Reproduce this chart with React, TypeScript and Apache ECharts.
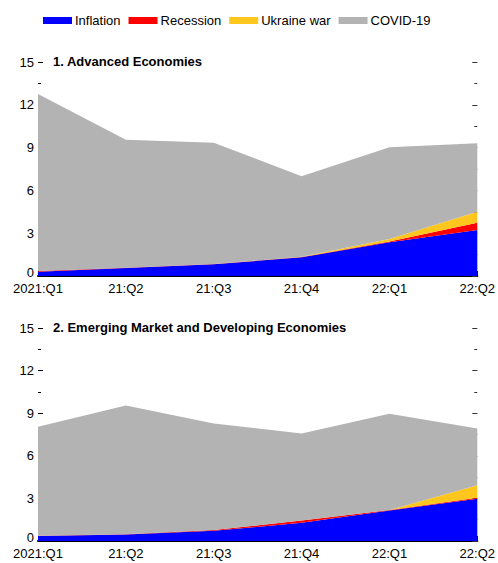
import React, { useEffect, useRef } from "react";
import * as echarts from "echarts";

const categories = ["2021:Q1", "21:Q2", "21:Q3", "21:Q4", "22:Q1", "22:Q2"];

const aeInflation = [0.3, 0.56, 0.82, 1.31, 2.36, 3.22];
const aeRecession = [0.05, 0.02, 0.02, 0.02, 0.05, 0.51];
const aeUkraine = [0, 0, 0, 0.02, 0.18, 0.77];
const aeCovid = [12.4, 8.97, 8.5, 5.65, 6.43, 4.8];

const emInflation = [0.35, 0.46, 0.72, 1.28, 2.15, 2.97];
const emRecession = [0.02, 0.02, 0.05, 0.16, 0.03, 0.07];
const emUkraine = [0, 0, 0, 0, 0, 0.89];
const emCovid = [7.67, 9.06, 7.5, 6.13, 6.78, 3.99];

const seriesNames = ["Inflation", "Recession", "Ukraine war", "COVID-19"];
const colors = ["#0000FF", "#FF0000", "#FFC61E", "#B3B3B3"];
const panelTitles = ["1. Advanced Economies", "2. Emerging Market and Developing Economies"];

const FONT = "'Liberation Sans', Arial, sans-serif";
const FS = 13;

export default function App() {
  const ref = useRef<HTMLDivElement>(null);

  useEffect(() => {
    if (!ref.current) return;
    const chart = echarts.init(ref.current, undefined, { renderer: "svg" });

    const grids = [
      { left: 38, right: 17, top: 62, height: 214 },
      { left: 38, right: 17, top: 328, height: 213 },
    ];

    const xAxes = grids.map((_, i) => ({
      type: "category",
      gridIndex: i,
      data: categories,
      boundaryGap: false,
      axisLine: { show: true, lineStyle: { color: "#000", width: 2 } },
      axisTick: { show: true, inside: true, length: 5, alignWithLabel: true, lineStyle: { color: "#000", width: 1 } },
      axisLabel: { color: "#000", fontSize: FS, fontFamily: FONT, margin: 6, interval: 0 },
      splitLine: { show: false },
    }));

    const yAxes: any[] = [];
    grids.forEach((_, i) => {
      yAxes.push({
        type: "value",
        gridIndex: i,
        position: "left",
        min: 0,
        max: 15,
        interval: 3,
        axisLine: { show: false },
        axisTick: { show: true, inside: true, length: 5, lineStyle: { color: "#000", width: 1 } },
        minorTick: { show: true, splitNumber: 2, length: 3, lineStyle: { color: "#000", width: 1 } },
        axisLabel: {
          color: "#000",
          fontSize: FS,
          fontFamily: FONT,
          margin: 4,
          formatter: (v: number) => (v === 0 ? "{z|0}" : String(v)),
          rich: { z: { fontSize: FS, fontFamily: FONT, color: "#000", padding: [0, 0, 8, 0] } },
        },
        splitLine: { show: false },
        minorSplitLine: { show: false },
      });
      yAxes.push({
        type: "value",
        gridIndex: i,
        position: "right",
        min: 0,
        max: 15,
        interval: 3,
        axisLine: { show: false },
        axisTick: { show: true, inside: true, length: 5, lineStyle: { color: "#333", width: 1 } },
        minorTick: { show: true, splitNumber: 2, length: 3, lineStyle: { color: "#333", width: 1 } },
        axisLabel: { show: false },
        splitLine: { show: false },
        minorSplitLine: { show: false },
      });
    });

    const panels = [
      [aeInflation, aeRecession, aeUkraine, aeCovid],
      [emInflation, emRecession, emUkraine, emCovid],
    ];

    const series: any[] = [];
    panels.forEach((data, p) => {
      data.forEach((vals, k) => {
        series.push({
          name: seriesNames[k],
          type: "line",
          xAxisIndex: p,
          yAxisIndex: p * 2,
          stack: "panel" + p,
          data: vals,
          symbol: "none",
          smooth: false,
          lineStyle: { width: 0, color: colors[k] },
          itemStyle: { color: colors[k] },
          areaStyle: { color: colors[k], opacity: 1 },
          emphasis: { disabled: true },
          silent: true,
        });
      });
    });

    chart.setOption({
      animation: false,
      textStyle: { fontFamily: FONT },
      legend: {
        left: 43,
        top: 14,
        padding: 0,
        itemGap: 8,
        itemWidth: 29,
        itemHeight: 7,
        icon: "rect",
        data: seriesNames,
        textStyle: { color: "#000", fontSize: FS, fontFamily: FONT, padding: [0, 0, 0, -2] },
        selectedMode: false,
      },
      title: [
        {
          text: panelTitles[0],
          left: 53,
          top: 55,
          padding: 0,
          textStyle: { fontSize: 13, fontWeight: "bold", color: "#000", fontFamily: FONT },
        },
        {
          text: panelTitles[1],
          left: 53,
          top: 321,
          padding: 0,
          textStyle: { fontSize: 13, fontWeight: "bold", color: "#000", fontFamily: FONT },
        },
      ],
      grid: grids,
      xAxis: xAxes,
      yAxis: yAxes,
      series,
    });

    return () => chart.dispose();
  }, []);

  return (
    <div
      ref={ref}
      style={{ position: "fixed", left: 0, top: 0, width: 498, height: 563, background: "#fff" }}
    />
  );
}
